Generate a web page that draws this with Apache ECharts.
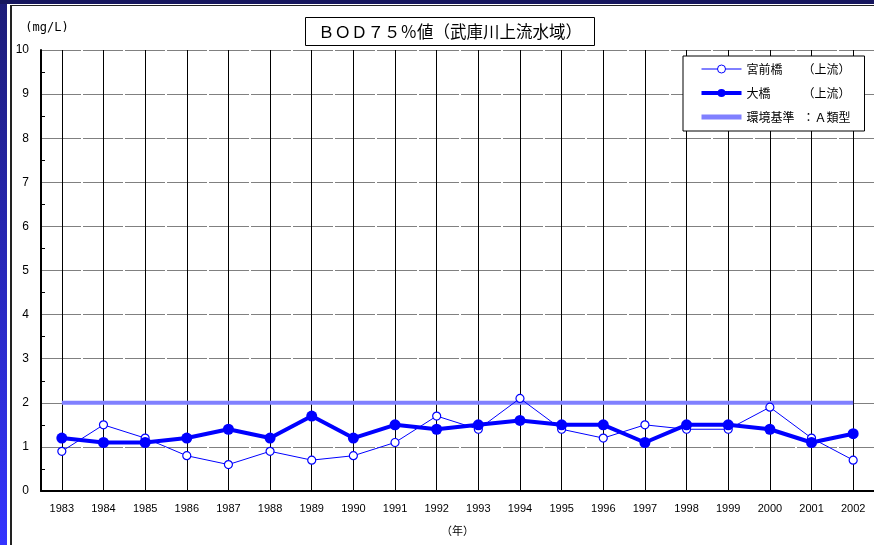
<!DOCTYPE html>
<html>
<head>
<meta charset="utf-8">
<script src="https://cdn.jsdelivr.net/npm/echarts@6/dist/echarts.min.js"></script>
<style>
    body { margin: 0; background: #fff; }
    #frameLeft { position: absolute; left: 0; top: 0; width: 7px; height: 545px; background: linear-gradient(#1c1c78, #3434ff); }
    #frameTop { position: absolute; left: 0; top: 0; width: 874px; height: 4px; background: #16165e; }
    #lineTop { position: absolute; left: 10px; top: 5px; width: 864px; height: 1px; background: #222; }
    #lineLeft { position: absolute; left: 10px; top: 5px; width: 2px; height: 540px; background: #222; }
    #main { position: absolute; left: 0; top: 0; width: 874px; height: 545px; }
</style>
</head>
<body>
<div id="frameLeft"></div>
<div id="frameTop"></div>
<div id="lineTop"></div>
<div id="lineLeft"></div>
<div id="main"></div>
<script>
    // 年
    var years = [1983, 1984, 1985, 1986, 1987, 1988, 1989, 1990, 1991, 1992,
                 1993, 1994, 1995, 1996, 1997, 1998, 1999, 2000, 2001, 2002];
    // 宮前橋（上流）
    var miyamaebashi = [0.9, 1.5, 1.2, 0.8, 0.6, 0.9, 0.7, 0.8, 1.1, 1.7,
                        1.4, 2.1, 1.4, 1.2, 1.5, 1.4, 1.4, 1.9, 1.2, 0.7];
    // 大橋（上流）
    var ohashi = [1.2, 1.1, 1.1, 1.2, 1.4, 1.2, 1.7, 1.2, 1.5, 1.4,
                  1.5, 1.6, 1.5, 1.5, 1.1, 1.5, 1.5, 1.4, 1.1, 1.3];
    // 環境基準：A類型
    var standardA = [2, 2];
    var standardYears = [1983, 2002];
    var seriesNames = ['宮前橋', '大橋', '環境基準'];
    var seriesNotes = ['（上流）', '（上流）', '：Ａ類型'];

    function pairs(xs, ys) {
        var out = [];
        for (var i = 0; i < xs.length; i++) {
            out.push([xs[i], ys[i]]);
        }
        return out;
    }

    var font = 'Liberation Sans, Noto Sans CJK JP';
    var chart = echarts.init(document.getElementById('main'));
    chart.setOption({
        animation: false,
        textStyle: { fontFamily: font },
        title: {
            text: 'ＢＯＤ７５％値（武庫川上流水域）',
            left: 305,
            top: 17,
            padding: [6, 13, 6, 13],
            borderColor: '#000',
            borderWidth: 1,
            backgroundColor: '#fff',
            textStyle: { fontSize: 16.5, fontWeight: 'normal', color: '#000', fontFamily: 'Noto Sans CJK JP' }
        },
        legend: {
            orient: 'vertical',
            left: 683,
            top: 56,
            padding: [7, 14, 8, 16],
            itemGap: 12,
            itemWidth: 40,
            itemHeight: 10,
            backgroundColor: '#fff',
            borderColor: '#000',
            borderWidth: 1,
            data: [
                { name: seriesNames[0], lineStyle: { width: 1 }, itemStyle: { borderWidth: 1 } },
                { name: seriesNames[1], lineStyle: { width: 4 } },
                { name: seriesNames[2], lineStyle: { width: 5 }, itemStyle: { opacity: 0 } }
            ],
            formatter: function (name) {
                var i = seriesNames.indexOf(name);
                return '{a|' + name + '}{b|' + seriesNotes[i] + '}';
            },
            textStyle: {
                fontFamily: 'Noto Sans CJK JP',
                rich: {
                    a: { width: 56, fontSize: 12, color: '#000', fontFamily: 'Noto Sans CJK JP' },
                    b: { fontSize: 12, color: '#000', fontFamily: 'Noto Sans CJK JP' }
                }
            }
        },
        grid: { left: 41, right: -1, top: 50, bottom: 54, containLabel: false },
        xAxis: {
            type: 'value',
            min: 1982.5,
            max: 2002.5,
            name: '（年）',
            nameLocation: 'middle',
            nameGap: 34,
            nameTextStyle: { fontSize: 11, color: '#000', fontFamily: 'Noto Sans CJK JP' },
            axisLine: { lineStyle: { color: '#000', width: 2 } },
            axisTick: { show: false, customValues: years },
            axisLabel: {
                customValues: years,
                fontSize: 11,
                color: '#000',
                margin: 12,
                formatter: function (v) { return String(v); }
            },
            splitLine: { show: true, lineStyle: { color: '#000', width: 1 } }
        },
        yAxis: {
            type: 'value',
            min: 0,
            max: 10,
            interval: 1,
            name: '(mg/L)',
            nameGap: 16,
            nameTextStyle: { fontSize: 12, color: '#000', fontFamily: 'DejaVu Sans Mono', padding: [0, 0, 0, 12] },
            axisLine: { show: true, lineStyle: { color: '#000', width: 2 } },
            axisTick: { show: true, inside: true, length: 0 },
            minorTick: { show: true, splitNumber: 2, length: 4, lineStyle: { color: '#000' } },
            axisLabel: { fontSize: 12, color: '#000', margin: 12 },
            splitLine: { show: true, lineStyle: { color: '#808080', width: 1, type: [40, 2] } }
        },
        series: [
            {
                name: '宮前橋',
                type: 'line',
                data: pairs(years, miyamaebashi),
                symbol: 'circle',
                symbolSize: 8,
                z: 3,
                lineStyle: { color: '#0000ff', width: 1 },
                itemStyle: { color: '#fff', borderColor: '#0000ff', borderWidth: 1.2 }
            },
            {
                name: '大橋',
                type: 'line',
                data: pairs(years, ohashi),
                symbol: 'circle',
                symbolSize: 11,
                z: 4,
                lineStyle: { color: '#0000ff', width: 4 },
                itemStyle: { color: '#0000ff' }
            },
            {
                name: '環境基準',
                type: 'line',
                data: pairs(standardYears, standardA),
                symbol: 'none',
                z: 2,
                lineStyle: { color: '#8080ff', width: 4 },
                itemStyle: { color: '#8080ff' }
            }
        ]
    });
</script>
</body>
</html>
